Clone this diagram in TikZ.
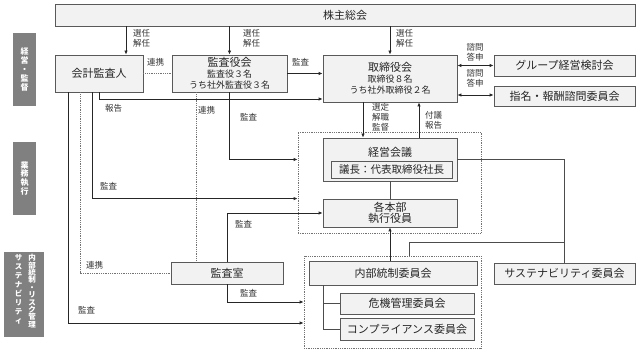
\documentclass[tikz,border=0pt]{standalone}
\usepackage{fontspec}
\setmainfont{Noto Sans CJK JP}
\usetikzlibrary{arrows.meta}
\newcommand{\subsz}{\fontsize{9}{11}\selectfont}

\begin{document}
\begin{tikzpicture}[x=1pt, y=-1pt, >={Latex[length=4pt,width=3.5pt]},
  box/.style={draw=black!65, fill=black!5, line width=0.8pt, inner sep=0pt, align=center, font=\fontsize{11}{11}\selectfont, text=black!85},
  sidebox/.style={fill=black!50, inner sep=0pt},
  vtext/.style={text=white, align=center, inner sep=0pt, anchor=north},
  lbl/.style={font=\fontsize{8.5}{10}\selectfont, text=black!80, align=left, inner sep=0pt, anchor=west},
  arr/.style={->, line width=0.8pt, draw=black!85},
  dblarr/.style={<->, line width=0.8pt, draw=black!85},
  conn/.style={line width=0.8pt, draw=black!70},
  dots/.style={densely dotted, line width=0.8pt, draw=black!55},
  dotframe/.style={dots, inner sep=0pt}]
\useasboundingbox (0,0) rectangle (640,352);

\node[sidebox, minimum width=23, minimum height=73] (side1) at (24.5,69.5) {};
\node[vtext, font=\fontsize{8}{9}\selectfont\bfseries] (side1t) at (24.5,47) {経\\営\\・\\監\\督};
\node[sidebox, minimum width=23, minimum height=73] (side2) at (24.5,178.5) {};
\node[vtext, font=\fontsize{8}{8.7}\selectfont\bfseries] (side2t) at (24.5,161) {業\\務\\執\\行};
\node[sidebox, minimum width=40, minimum height=85] (side3) at (24,294.5) {};
\node[vtext, font=\fontsize{7.5}{7.4}\selectfont\bfseries] (side3r) at (32,254) {内\\部\\統\\制\\・\\リ\\ス\\ク\\管\\理};
\node[vtext, font=\fontsize{7.5}{9}\selectfont\bfseries] (side3l) at (18.5,254) {サ\\ス\\テ\\ナ\\ビ\\リ\\テ\\ィ};

\node[dotframe, minimum width=183, minimum height=101] (exec) at (389.5,182.5) {};
\node[dotframe, minimum width=177, minimum height=92] (ctrl) at (392.5,302) {};

\node[box, minimum width=580, minimum height=22] (soukai) at (345,15) {株主総会};
\node[box, minimum width=88, minimum height=37] (kaikei) at (99,73.5) {会計監査人};
\node[box, minimum width=115, minimum height=37] (kansayaku) at (229.5,73.5) {監査役会\\\subsz 監査役３名\\\subsz うち社外監査役３名};
\node[box, minimum width=134, minimum height=47] (torishimari) at (390,78.5) {取締役会\\\subsz 取締役８名\\\subsz うち社外取締役２名};
\node[box, minimum width=141, minimum height=21] (kentou) at (564.5,65.5) {グループ経営検討会};
\node[box, minimum width=141, minimum height=20] (shimei) at (564.5,96) {指名・報酬諮問委員会};
\node[box, minimum width=134, minimum height=43, text depth=16pt] (keiei) at (390,159.5) {経営会議};
\node[box, minimum width=121, minimum height=17, font=\fontsize{10.5}{11}\selectfont] (gichou) at (391.5,169.5) {議長：代表取締役社長};
\node[box, minimum width=134, minimum height=28] (honbu) at (390,213) {各本部\\執行役員};
\node[box, minimum width=112, minimum height=22] (kansashitsu) at (227,273) {監査室};
\node[box, minimum width=168, minimum height=24] (naibu) at (393,273) {内部統制委員会};
\node[box, minimum width=134, minimum height=21] (kiki) at (407,303.5) {危機管理委員会};
\node[box, minimum width=134, minimum height=22] (comp) at (407,329) {コンプライアンス委員会};
\node[box, minimum width=141, minimum height=21] (sustain) at (564.5,273.5) {サステナビリティ委員会};

\draw[arr] ([xshift=27pt]kaikei.north |- soukai.south) -- ([xshift=27pt]kaikei.north);
\draw[arr] (kansayaku.north |- soukai.south) -- (kansayaku.north);
\draw[arr] (torishimari.north |- soukai.south) -- (torishimari.north);
\node[lbl] (sen1) at (133,38) {選任\\解任};
\node[lbl] (sen2) at (243,38) {選任\\解任};
\node[lbl] (sen3) at (396,38) {選任\\解任};

\draw[dots] (kaikei.east) -- (kansayaku.west);
\node[lbl] (ren1) at (147,62) {連携};
\draw[arr] (kansayaku.east) -- (torishimari.west |- kansayaku.east);
\node[lbl] (kan1) at (292,62) {監査};
\draw[arr] (kaikei.south) |- (torishimari.west |- 0,99);
\node[lbl] (hou1) at (105,108) {報告};
\draw[dblarr] (torishimari.east |- kentou.west) -- (kentou.west);
\draw[dblarr] (torishimari.east |- 0,95) -- (shimei.west |- 0,95);
\node[lbl, anchor=center, align=center] (shi1) at (475,52) {諮問\\答申};
\node[lbl, anchor=center, align=center] (shi2) at (475,78) {諮問\\答申};

\draw[dots] ([xshift=-33.5pt]kansayaku.south) -- ([xshift=-33.5pt]kansayaku.south |- kansashitsu.north);
\node[lbl] (ren2) at (198,110) {連携};
\draw[arr] (kansayaku.south) |- (exec.west |- keiei.east);
\node[lbl] (kan2) at (240,117) {監査};
\draw[arr] ([xshift=-7pt]kaikei.south) |- (exec.west |- honbu.north);
\node[lbl] (kan3) at (100,186) {監査};
\draw[arr] ([xshift=-31pt]kaikei.south) |- (ctrl.west |- 0,323);
\node[lbl] (kan4) at (78,310) {監査};
\draw[dots] ([xshift=-19pt]kaikei.south) |- (kansashitsu.west);
\node[lbl] (ren3) at (86,265) {連携};
\draw[arr] (kansashitsu.north) |- (honbu.west);
\node[lbl] (kan5) at (235,224) {監査};
\draw[arr] (kansashitsu.south) |- (ctrl.west |- 0,302);
\node[lbl] (kan6) at (240,293) {監査};

\draw[arr] ([xshift=-27pt]torishimari.south) -- ([xshift=-27pt]torishimari.south |- keiei.north);
\node[lbl] (sentei) at (372,117) {選定\\解職\\監督};
\draw[arr] ([xshift=29pt]torishimari.south |- keiei.north) -- ([xshift=29pt]torishimari.south);
\node[lbl] (fugi) at (425,120) {付議\\報告};

\draw[conn] (keiei.south) -- (honbu.north);
\draw[conn] (keiei.east) -| (sustain.north);
\coordinate (sjoin) at (564.5,242);
\draw[conn] ([xshift=16.5pt]ctrl.north) |- (sjoin);
\draw[arr] (honbu.south |- naibu.north) -- (honbu.south);
\draw[conn] ([xshift=15pt]naibu.south west) |- (comp.west);
\draw[conn] ([xshift=15pt]naibu.south west |- kiki.west) -- (kiki.west);
\end{tikzpicture}
\end{document}
